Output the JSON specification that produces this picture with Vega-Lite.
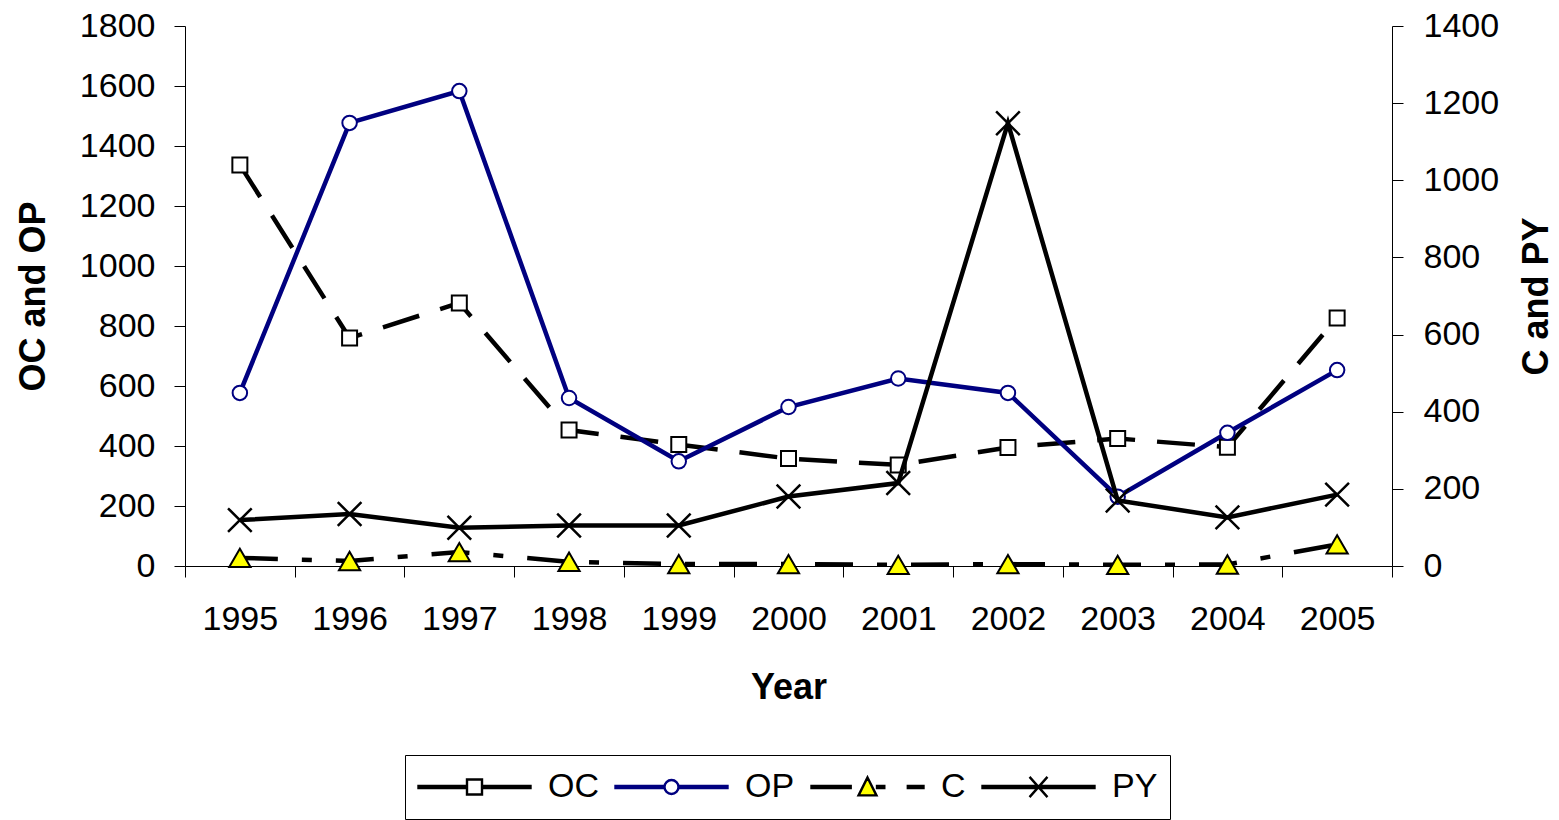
{
  "$schema": "https://vega.github.io/schema/vega-lite/v6.json",
  "width": 1207,
  "height": 540,
  "autosize": {"type": "none"},
  "padding": {"left": 185, "top": 26, "right": 167, "bottom": 254},
  "background": "white",
  "config": {
    "font": "Liberation Sans",
    "view": {"stroke": null},
    "axis": {
      "labelFont": "Liberation Sans",
      "labelFontSize": 34,
      "labelColor": "black",
      "titleFont": "Liberation Sans",
      "titleFontSize": 36,
      "titleFontWeight": "bold",
      "titleColor": "black",
      "domainColor": "black",
      "tickColor": "black",
      "tickSize": 11,
      "grid": false
    },
    "legend": {
      "labelFont": "Liberation Sans",
      "labelFontSize": 34,
      "labelColor": "black",
      "symbolSize": 12544,
      "symbolStrokeWidth": 2.4,
      "symbolOpacity": 1,
      "clipHeight": 40,
      "padding": 12,
      "strokeColor": "black",
      "columnPadding": 15,
      "labelOffset": 16,
      "symbolOffset": 0
    }
  },
  "data": {
    "values": [
      {"year": "1995", "series": "OC", "value": 1337},
      {"year": "1996", "series": "OC", "value": 760},
      {"year": "1997", "series": "OC", "value": 877},
      {"year": "1998", "series": "OC", "value": 453},
      {"year": "1999", "series": "OC", "value": 405},
      {"year": "2000", "series": "OC", "value": 358},
      {"year": "2001", "series": "OC", "value": 337},
      {"year": "2002", "series": "OC", "value": 395},
      {"year": "2003", "series": "OC", "value": 425},
      {"year": "2004", "series": "OC", "value": 396},
      {"year": "2005", "series": "OC", "value": 827},
      {"year": "1995", "series": "OP", "value": 577},
      {"year": "1996", "series": "OP", "value": 1477},
      {"year": "1997", "series": "OP", "value": 1583},
      {"year": "1998", "series": "OP", "value": 560},
      {"year": "1999", "series": "OP", "value": 349},
      {"year": "2000", "series": "OP", "value": 530},
      {"year": "2001", "series": "OP", "value": 625},
      {"year": "2002", "series": "OP", "value": 577},
      {"year": "2003", "series": "OP", "value": 231},
      {"year": "2004", "series": "OP", "value": 444},
      {"year": "2005", "series": "OP", "value": 653},
      {"year": "1995", "series": "C", "value": 21},
      {"year": "1996", "series": "C", "value": 13},
      {"year": "1997", "series": "C", "value": 36},
      {"year": "1998", "series": "C", "value": 11},
      {"year": "1999", "series": "C", "value": 5},
      {"year": "2000", "series": "C", "value": 5},
      {"year": "2001", "series": "C", "value": 3},
      {"year": "2002", "series": "C", "value": 5},
      {"year": "2003", "series": "C", "value": 3},
      {"year": "2004", "series": "C", "value": 4},
      {"year": "2005", "series": "C", "value": 56},
      {"year": "1995", "series": "PY", "value": 119},
      {"year": "1996", "series": "PY", "value": 135},
      {"year": "1997", "series": "PY", "value": 99},
      {"year": "1998", "series": "PY", "value": 105},
      {"year": "1999", "series": "PY", "value": 105},
      {"year": "2000", "series": "PY", "value": 180},
      {"year": "2001", "series": "PY", "value": 215},
      {"year": "2002", "series": "PY", "value": 1148},
      {"year": "2003", "series": "PY", "value": 170},
      {"year": "2004", "series": "PY", "value": 126},
      {"year": "2005", "series": "PY", "value": 185}
    ]
  },
  "encoding": {
    "x": {
      "field": "year",
      "type": "ordinal",
      "scale": {"type": "band", "paddingInner": 0, "paddingOuter": 0},
      "axis": {
        "title": "Year",
        "labelAngle": 0,
        "tickBand": "extent",
        "labelPadding": 25,
        "titlePadding": 34
      }
    }
  },
  "layer": [
    {
      "encoding": {
        "y": {
          "field": "value",
          "type": "quantitative",
          "scale": {"domain": [0, 1800], "nice": false, "zero": true},
          "axis": {
            "orient": "left",
            "title": "OC and OP",
            "format": "d",
            "values": [0, 200, 400, 600, 800, 1000, 1200, 1400, 1600, 1800],
            "labelPadding": 19,
            "titlePadding": 27
          }
        }
      },
      "layer": [
        {
          "transform": [{"filter": "datum.series === 'OC'"}],
          "mark": {"type": "line", "strokeWidth": 4.5, "stroke": "black", "strokeDash": [38, 22]}
        },
        {
          "transform": [{"filter": "datum.series === 'OP'"}],
          "mark": {"type": "line", "strokeWidth": 4.5, "stroke": "#000080"}
        },
        {
          "transform": [{"filter": "datum.series === 'OC'"}],
          "mark": {"type": "point", "shape": "square", "size": 225, "fill": "white", "stroke": "black", "strokeWidth": 2, "opacity": 1}
        },
        {
          "transform": [{"filter": "datum.series === 'OP'"}],
          "mark": {"type": "point", "shape": "circle", "size": 210, "fill": "white", "stroke": "#000080", "strokeWidth": 2, "opacity": 1}
        },
        {
          "transform": [{"filter": "datum.series === 'OC' || datum.series === 'OP'"}],
          "mark": {"type": "point", "opacity": 0},
          "encoding": {
            "shape": {
              "field": "series",
              "type": "nominal",
              "scale": {
                "domain": ["OC", "OP", "C", "PY"],
                "range": [
                  "M-1,-0.02H-0.134V0.02H-1Z M0.134,-0.02H1V0.02H0.134Z M-0.134,-0.134H0.134V0.134H-0.134Z",
                  "M-1,-0.02H-0.125V0.02H-1Z M0.125,-0.02H1V0.02H0.125Z M0.125,0A0.125,0.125 0 1,1 -0.125,0A0.125,0.125 0 1,1 0.125,0Z",
                  "M-1,-0.02H-0.3V0.02H-1Z M0.17,-0.02H0.3V0.02H0.17Z M0.72,-0.02H1V0.02H0.72Z M0,-0.17L0.16,0.15H-0.16Z",
                  "M-1,-0.02H1V0.02H-1Z M-0.16,-0.18L0.16,0.18M-0.16,0.18L0.16,-0.18"
                ]
              },
              "legend": {"orient": "none", "legendX": 220, "legendY": 729, "direction": "horizontal", "columns": 4, "title": null}
            },
            "stroke": {
              "field": "series",
              "type": "nominal",
              "scale": {"domain": ["OC", "OP", "C", "PY"], "range": ["black", "#000080", "black", "black"]},
              "legend": {"orient": "none", "legendX": 220, "legendY": 729, "direction": "horizontal", "columns": 4, "title": null}
            },
            "fill": {
              "field": "series",
              "type": "nominal",
              "scale": {"domain": ["OC", "OP", "C", "PY"], "range": ["white", "white", "#ffff00", "black"]},
              "legend": {"orient": "none", "legendX": 220, "legendY": 729, "direction": "horizontal", "columns": 4, "title": null}
            }
          }
        }
      ]
    },
    {
      "encoding": {
        "y": {
          "field": "value",
          "type": "quantitative",
          "scale": {"domain": [0, 1400], "nice": false, "zero": true},
          "axis": {
            "orient": "right",
            "title": "C and PY",
            "titleAngle": 270,
            "titleBaseline": "top",
            "format": "d",
            "values": [0, 200, 400, 600, 800, 1000, 1200, 1400],
            "labelPadding": 20,
            "titlePadding": 21
          }
        }
      },
      "layer": [
        {
          "transform": [{"filter": "datum.series === 'C'"}],
          "mark": {"type": "line", "strokeWidth": 4.5, "stroke": "black", "strokeDash": [38, 24, 10, 24]}
        },
        {
          "transform": [{"filter": "datum.series === 'PY'"}],
          "mark": {"type": "line", "strokeWidth": 4.5, "stroke": "black"}
        },
        {
          "transform": [{"filter": "datum.series === 'C'"}],
          "mark": {"type": "point", "shape": "triangle-up", "size": 450, "fill": "#ffff00", "stroke": "black", "strokeWidth": 2, "opacity": 1}
        },
        {
          "transform": [{"filter": "datum.series === 'PY'"}],
          "mark": {"type": "point", "shape": "M-1,-1L1,1M-1,1L1,-1", "size": 560, "fill": "transparent", "stroke": "black", "strokeWidth": 2.5, "opacity": 1}
        }
      ]
    }
  ],
  "resolve": {"scale": {"y": "independent"}}
}
